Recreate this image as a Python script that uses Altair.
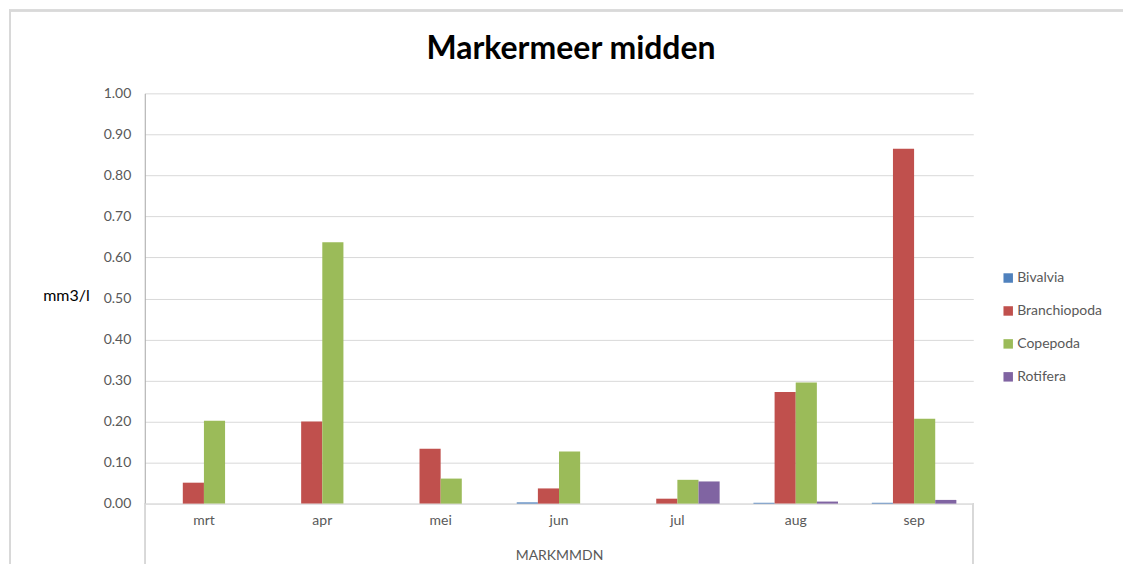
import altair as alt
import pandas as pd

months = ["mrt", "apr", "mei", "jun", "jul", "aug", "sep"]
groups = ["Bivalvia", "Branchiopoda", "Copepoda", "Rotifera"]
bivalvia = [0.0, 0.0, 0.0, 0.003, 0.0, 0.002, 0.002]
branchiopoda = [0.051, 0.200, 0.134, 0.037, 0.012, 0.272, 0.865]
copepoda = [0.202, 0.637, 0.061, 0.127, 0.058, 0.295, 0.207]
rotifera = [0.0, 0.0, 0.0, 0.0, 0.054, 0.005, 0.009]
colors = ["#4F81BD", "#C0504D", "#9BBB59", "#8064A2"]

rows = []
for g, vals in zip(groups, [bivalvia, branchiopoda, copepoda, rotifera]):
    for m, v in zip(months, vals):
        rows.append({"maand": m, "groep": g, "waarde": v})
df = pd.DataFrame(rows)

W, H = 830, 411
FONT = "Lato"

bars = alt.Chart(df).mark_bar().encode(
    x=alt.X("maand:N", sort=months,
            scale=alt.Scale(paddingInner=0, paddingOuter=0),
            axis=alt.Axis(title="MARKMMDN", labelAngle=0, labelFontSize=14,
                          labelColor="#595959", labelFont=FONT, labelPadding=10,
                          titleFont=FONT, titleFontSize=14, titleFontWeight="normal",
                          titleColor="#595959", titlePadding=21,
                          ticks=False, domainColor="#d9d9d9", grid=False)),
    xOffset=alt.XOffset("groep:N", sort=groups,
                        scale=alt.Scale(paddingOuter=0.8, paddingInner=0)),
    y=alt.Y("waarde:Q", scale=alt.Scale(domain=[0, 1]),
            axis=alt.Axis(title="mm3/l", values=[i / 10 for i in range(11)],
                          format=".2f", labelFontSize=14, labelColor="#595959",
                          labelFont=FONT, labelPadding=14, ticks=False,
                          domainColor="#a6a6a6", gridColor="#d9d9d9",
                          titleAngle=0, titleFont=FONT, titleFontSize=16,
                          titleFontWeight="normal", titleColor="#000000",
                          titleX=-79, titleY=211, titleAlign="center")),
    color=alt.Color("groep:N", sort=groups,
                    scale=alt.Scale(domain=groups, range=colors),
                    legend=alt.Legend(title=None, orient="none", legendX=858,
                                      legendY=178, symbolType="square",
                                      symbolSize=90, symbolStrokeWidth=0,
                                      labelFontSize=14, labelFont=FONT,
                                      labelColor="#595959", rowPadding=19,
                                      labelOffset=2)),
)

left_box = alt.Chart(df).mark_rule(color="#d9d9d9").encode(
    x=alt.value(0), y=alt.value(H), y2=alt.value(H + 80))
right_box = alt.Chart(df).mark_rule(color="#d9d9d9").encode(
    x=alt.value(W), y=alt.value(H), y2=alt.value(H + 80))
border = alt.Chart(df).mark_rect(fill=None, stroke="#d9d9d9", strokeWidth=1.5).encode(
    x=alt.value(-135), x2=alt.value(983), y=alt.value(-83), y2=alt.value(H + 200))

chart = alt.layer(border, left_box, right_box, bars).properties(
    width=W, height=H,
    title=alt.Title("Markermeer midden", font=FONT, fontSize=32, fontWeight="bold",
                    color="#000000", anchor="middle", dx=12, offset=-88,
                    baseline="bottom"),
    autosize=alt.AutoSizeParams(type="none"),
    padding={"left": 137, "top": 85, "right": 150, "bottom": 60},
).configure_view(stroke=None).configure_axis(domainWidth=1)

chart.save("out.html", embed_options={"renderer": "svg", "actions": False})
